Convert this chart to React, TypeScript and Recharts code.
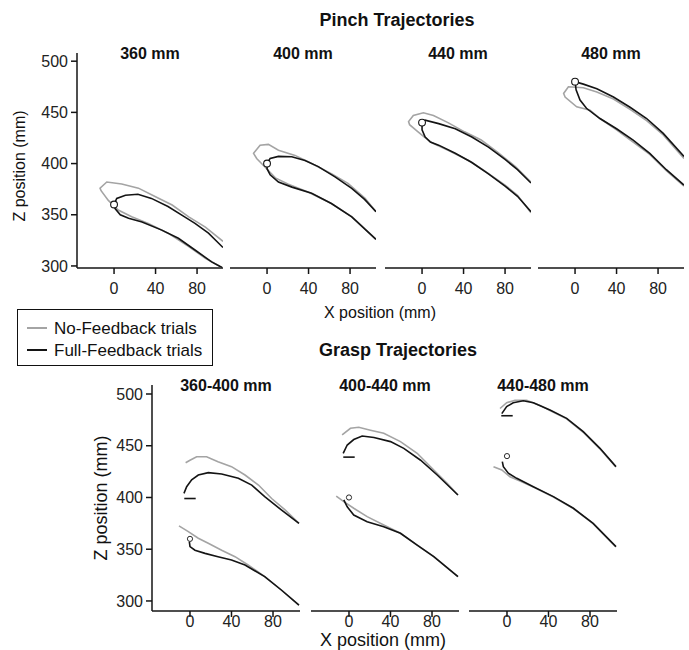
import { ScatterChart, Scatter, XAxis, YAxis } from 'recharts';

type Pt = [number, number];

// Pinch trajectories, x / z in mm. Each loop is one path: upper branch (right to left), then lower branch.
const pinch360NoFb: Pt[] = [[105, 324], [88, 338], [72, 348], [56, 359.5], [40, 367.6], [23.5, 376], [7.4, 380], [-7, 382], [-13.5, 376], [-12.5, 373.5], [-5.5, 364], [4, 354.6], [17, 348], [33, 341.6], [52, 332], [72, 319], [88, 307.5], [104, 298.5]];
const pinch360Fb: Pt[] = [[105, 318], [91, 332], [78, 341.6], [68, 348], [52, 358], [36, 366], [23, 370], [11, 369], [2.6, 366], [0, 360], [1, 356], [6, 350], [14, 346.5], [27, 343], [46, 335], [62, 327], [78, 315.6], [94, 304], [104, 298.5]];

const pinch400NoFb: Pt[] = [[105, 353], [94.5, 366], [78, 380.7], [62, 390], [43, 400], [27, 408], [11, 413], [1.3, 418.7], [-6.7, 418], [-13, 410], [-10, 405], [-2, 396.6], [8, 386], [20, 380], [40, 372], [62, 361], [82, 348], [105, 326]];
const pinch400Fb: Pt[] = [[105, 353], [94, 365], [81.6, 375.8], [65.5, 387], [49.4, 397], [36.6, 403], [23.8, 406.6], [11, 407], [3, 405], [0, 400], [0, 395], [3, 389], [11, 382], [24, 377], [43, 371], [62, 361], [81.6, 348], [105, 326]];

const pinch440NoFb: Pt[] = [[105, 382], [90, 397], [73, 411], [57, 423], [41, 431], [25, 440], [11, 447], [1.3, 449.6], [-8.4, 447], [-13, 441], [-12, 438], [-5, 432], [2, 426], [10, 420], [25, 413], [45, 403], [60, 393], [80, 379], [92, 369], [105, 352]];
const pinch440Fb: Pt[] = [[105, 381], [92, 394], [80, 404], [64, 416], [48, 426], [32, 434], [16, 439], [3, 442.4], [0, 440], [0, 433], [3, 426], [8, 421], [16, 418], [32, 410], [48, 401], [64, 390], [80, 378], [92, 368], [105, 353]];

const pinch480NoFb: Pt[] = [[105, 405], [85, 428], [69, 442], [53, 453], [37, 463], [21, 470], [8, 474], [-6.4, 475], [-11, 468.5], [-9.6, 465], [1.6, 455.5], [14.5, 452], [24, 444], [40, 433], [56, 421], [72, 409], [88, 393], [105, 378]];
const pinch480Fb: Pt[] = [[105, 407], [85, 429.5], [69, 444], [53, 455], [37, 465], [21, 473], [8, 477.6], [0, 480], [1, 472], [4.8, 462], [11, 454], [24, 444], [40, 434], [56, 423], [72, 410], [88, 394], [105, 379]];

// Grasp trajectories: separate upper and lower paths
const grasp360UpNoFb: Pt[] = [[-4.2, 433.6], [0, 436], [6.4, 439.4], [16, 439.4], [27, 434.6], [40, 429.8], [53, 421.7], [66, 412], [78.7, 399], [91.6, 388], [105, 375]];
const grasp360UpFb: Pt[] = [[-5.8, 404], [-3.2, 410.4], [1.6, 417], [8, 421.7], [17.6, 424], [30.5, 422.7], [46.6, 418.5], [59.5, 412], [72, 400.8], [88, 388], [105, 375]];
const grasp360LoNoFb: Pt[] = [[-10.6, 372.5], [-1.6, 367], [8, 360.6], [17.6, 355.7], [30.5, 349], [43.4, 342.8], [56, 334.8], [72, 323.5], [88, 310.6], [105, 296]];
const grasp360LoFb: Pt[] = [[-0.6, 357], [0, 352.5], [4.8, 349], [14.5, 346], [27, 342.8], [40, 339.6], [53, 334.8], [72, 323.5], [88, 310.6], [105, 296]];

const grasp400UpNoFb: Pt[] = [[-6.6, 460.4], [1.4, 466.9], [9.4, 467.8], [20.7, 465], [33.5, 462], [49.6, 454], [65.7, 442.7], [81.7, 426.6], [94.6, 413.7], [105, 402.4]];
const grasp400UpFb: Pt[] = [[-5.6, 442.7], [-1.7, 450.7], [4.6, 456], [12.7, 459.4], [24, 458], [40, 454], [52.8, 447.5], [69, 436], [85, 421.7], [105, 402.4]];
const grasp400LoNoFb: Pt[] = [[-12.3, 401.4], [-5, 396], [4.6, 389.6], [17.5, 381.5], [33.5, 373.4], [49.6, 365.4], [65.7, 354], [81.7, 342.8], [105, 323.5]];
const grasp400LoFb: Pt[] = [[-5, 397.6], [-1.7, 391], [4.6, 383], [17.5, 376.6], [33.5, 371.8], [49.6, 365.4], [65.7, 354], [81.7, 342.8], [105, 323.5]];

const grasp440UpNoFb: Pt[] = [[-6.7, 486], [-0.3, 491.6], [7.7, 494], [19, 494], [31.8, 489], [41.4, 484], [57.5, 476], [73.5, 463], [89.6, 447], [105, 429.5]];
const grasp440UpFb: Pt[] = [[-5, 481], [-0.3, 487.8], [6, 491.6], [15.7, 493.5], [25.4, 491.6], [41.4, 484.5], [57.5, 476.5], [73.5, 463.6], [89.6, 447.5], [105, 429.8]];
const grasp440LoNoFb: Pt[] = [[-13, 429.8], [-5, 426.6], [2.9, 420], [12.5, 416], [25.4, 410], [44.7, 400.5], [64, 389.3], [83, 374.7], [105, 352.3]];
const grasp440LoFb: Pt[] = [[-4.5, 434.6], [-3.5, 429.8], [1.3, 423.4], [9.4, 418.5], [25.4, 410.4], [44.7, 400.8], [64, 389.6], [83, 375], [105, 352.5]];

const PINCH_TITLES = ['360 mm', '400 mm', '440 mm', '480 mm'];
const PINCH_TARGETS = [360, 400, 440, 480];
const GRASP_TITLES = ['360-400 mm', '400-440 mm', '440-480 mm'];
const GRASP_TARGETS = [360, 400, 440];
const GRASP_BARS = [399, 439, 479];
const X_TICKS = [0, 40, 80];
const Z_TICKS = [300, 350, 400, 450, 500];

const GRAY = '#a4a4a4';
const BLACK = '#141414';
const FONT = '"Liberation Sans", Arial, Helvetica, sans-serif';

const toPts = (a: Pt[]) => a.map(([x, z]) => ({ x, z }));

interface PanelProps {
  left: number;
  top: number;
  w: number;
  h: number;
  xDomain: [number, number];
  zDomain: [number, number];
  showY: boolean;
  tickFont: number;
  xTickMargin: number;
  noFb: Pt[][];
  fb: Pt[][];
  target: number;
  bar?: number;
  small?: boolean;
}

function Panel({ left, top, w, h, xDomain, zDomain, showY, tickFont, xTickMargin, noFb, fb, target, bar, small }: PanelProps) {
  const yw = showY ? 60 : 0;
  const axisStyle = { stroke: BLACK, strokeWidth: 1.5 };
  return (
    <div style={{ position: 'absolute', left: left - yw, top }}>
      <ScatterChart width={w + yw} height={h + 40} margin={{ top: 0, right: 0, bottom: 0, left: 0 }}>
        <XAxis
          type="number"
          dataKey="x"
          domain={xDomain}
          ticks={X_TICKS}
          interval={0}
          allowDataOverflow
          height={40}
          tickSize={6}
          tickMargin={xTickMargin}
          axisLine={axisStyle}
          tickLine={axisStyle}
          tick={{ fill: '#222', fontSize: tickFont, fontFamily: FONT }}
        />
        <YAxis
          type="number"
          dataKey="z"
          domain={zDomain}
          ticks={Z_TICKS}
          interval={0}
          allowDataOverflow
          hide={!showY}
          width={yw}
          tickSize={6}
          tickMargin={3}
          axisLine={axisStyle}
          tickLine={axisStyle}
          tick={{ fill: '#222', fontSize: tickFont, fontFamily: FONT }}
        />
        {noFb.map((c, i) => (
          <Scatter
            key={'n' + i}
            data={toPts(c)}
            fill={GRAY}
            line={{ stroke: GRAY, strokeWidth: 1.6 }}
            shape={() => <g />}
            isAnimationActive={false}
          />
        ))}
        {fb.map((c, i) => (
          <Scatter
            key={'f' + i}
            data={toPts(c)}
            fill={BLACK}
            line={{ stroke: BLACK, strokeWidth: 1.6 }}
            shape={() => <g />}
            isAnimationActive={false}
          />
        ))}
        {bar !== undefined && (
          <Scatter
            data={[{ x: -5.5, z: bar }, { x: 5.5, z: bar }]}
            fill={BLACK}
            line={{ stroke: BLACK, strokeWidth: 1.6 }}
            shape={() => <g />}
            isAnimationActive={false}
          />
        )}
        <Scatter
          data={[{ x: 0, z: target }]}
          fill="#fff"
          shape={(p: any) => (
            <circle cx={p.cx} cy={p.cy} r={small ? 2.6 : 3.4} fill="#fff" stroke={BLACK} strokeWidth={small ? 0.9 : 1.1} />
          )}
          isAnimationActive={false}
        />
      </ScatterChart>
    </div>
  );
}

function Label({ x, y, text, size, bold, rotate }: { x: number; y: number; text: string; size: number; bold?: boolean; rotate?: boolean }) {
  return (
    <div
      style={{
        position: 'absolute',
        left: x,
        top: y,
        transform: `translate(-50%, -50%)${rotate ? ' rotate(-90deg)' : ''}`,
        whiteSpace: 'nowrap',
        fontFamily: FONT,
        fontSize: size,
        fontWeight: bold ? 700 : 400,
        color: '#111',
        lineHeight: 1,
      }}
    >
      {text}
    </div>
  );
}

const PINCH_SERIES = [
  [pinch360NoFb, pinch360Fb],
  [pinch400NoFb, pinch400Fb],
  [pinch440NoFb, pinch440Fb],
  [pinch480NoFb, pinch480Fb],
];
const GRASP_SERIES = [
  [[grasp360UpNoFb, grasp360LoNoFb], [grasp360UpFb, grasp360LoFb]],
  [[grasp400UpNoFb, grasp400LoNoFb], [grasp400UpFb, grasp400LoFb]],
  [[grasp440UpNoFb, grasp440LoNoFb], [grasp440UpFb, grasp440LoFb]],
];

const TOP_LEFTS = [77, 230, 385, 538];
const BOTTOM_LEFTS = [152, 311, 469];

export default function App() {
  return (
    <div style={{ position: 'absolute', left: 0, top: 0, width: 689, height: 650, background: '#fff', overflow: 'hidden' }}>
      <Label x={397} y={20} text="Pinch Trajectories" size={18} bold />
      {TOP_LEFTS.map((l, i) => (
        <Panel
          key={'p' + i}
          left={l}
          top={53}
          w={146}
          h={215}
          xDomain={[-35.7, 105]}
          zDomain={[298, 508]}
          showY={i === 0}
          tickFont={16}
          xTickMargin={9}
          noFb={[PINCH_SERIES[i][0]]}
          fb={[PINCH_SERIES[i][1]]}
          target={PINCH_TARGETS[i]}
        />
      ))}
      {TOP_LEFTS.map((l, i) => (
        <Label key={'pt' + i} x={l + 73} y={54} text={PINCH_TITLES[i]} size={16} bold />
      ))}
      <Label x={20} y={166} text="Z position (mm)" size={16} rotate />
      <Label x={380} y={313} text="X position (mm)" size={16} />

      <div
        style={{
          position: 'absolute',
          left: 17,
          top: 309,
          width: 196,
          height: 57,
          boxSizing: 'border-box',
          border: '1.5px solid #111',
          fontFamily: FONT,
          fontSize: 17,
          color: '#111',
        }}
      >
        {[
          { name: 'No-Feedback trials', color: GRAY },
          { name: 'Full-Feedback trials', color: BLACK },
        ].map((it, i) => (
          <div key={it.name} style={{ position: 'absolute', left: 9, top: 8 + i * 22, height: 20, display: 'flex', alignItems: 'center' }}>
            <span style={{ display: 'inline-block', width: 20, borderTop: `2px solid ${it.color}`, marginRight: 7 }} />
            <span style={{ lineHeight: 1 }}>{it.name}</span>
          </div>
        ))}
      </div>

      <Label x={398} y={350} text="Grasp Trajectories" size={18} bold />
      {BOTTOM_LEFTS.map((l, i) => (
        <Panel
          key={'g' + i}
          left={l}
          top={385}
          w={148}
          h={226}
          xDomain={[-36.6, 106]}
          zDomain={[290.3, 508.7]}
          showY={i === 0}
          tickFont={16}
          xTickMargin={-1}
          noFb={GRASP_SERIES[i][0]}
          fb={GRASP_SERIES[i][1]}
          target={GRASP_TARGETS[i]}
          bar={GRASP_BARS[i]}
          small
        />
      ))}
      {BOTTOM_LEFTS.map((l, i) => (
        <Label key={'gt' + i} x={l + 74} y={386} text={GRASP_TITLES[i]} size={16} bold />
      ))}
      <Label x={101} y={498} text="Z position (mm)" size={18} rotate />
      <Label x={383} y={640} text="X position (mm)" size={18} />
    </div>
  );
}
